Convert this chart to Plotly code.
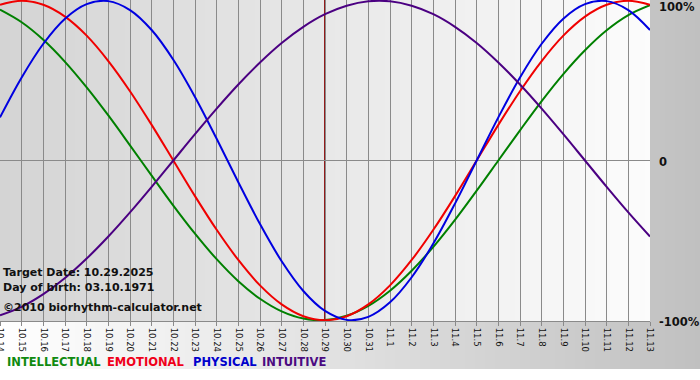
import plotly.graph_objects as go

# ---------------- data ----------------
DAYS = ["10.14", "10.15", "10.16", "10.17", "10.18", "10.19", "10.20", "10.21",
        "10.22", "10.23", "10.24", "10.25", "10.26", "10.27", "10.28", "10.29",
        "10.30", "10.31", "11.1", "11.2", "11.3", "11.4", "11.5", "11.6", "11.7",
        "11.8", "11.9", "11.10", "11.11", "11.12", "11.13"]

INTELLECTUAL = [0.945, 0.866, 0.756, 0.618, 0.458, 0.282, 0.095, -0.095, -0.282,
                -0.458, -0.618, -0.756, -0.866, -0.945, -0.990, -0.999, -0.972,
                -0.910, -0.815, -0.690, -0.541, -0.372, -0.189, 0.0, 0.189, 0.372,
                0.541, 0.690, 0.815, 0.910, 0.972]

EMOTIONAL = [0.975, 1.000, 0.975, 0.901, 0.782, 0.623, 0.434, 0.223, 0.0,
             -0.223, -0.434, -0.623, -0.782, -0.901, -0.975, -1.000, -0.975,
             -0.901, -0.782, -0.623, -0.434, -0.223, 0.0, 0.223, 0.434, 0.623,
             0.782, 0.901, 0.975, 1.000, 0.975]

PHYSICAL = [0.270, 0.520, 0.731, 0.888, 0.979, 0.998, 0.942, 0.817, 0.631,
            0.398, 0.136, -0.136, -0.398, -0.631, -0.817, -0.942, -0.998,
            -0.979, -0.888, -0.731, -0.520, -0.270, 0.0, 0.270, 0.520, 0.731,
            0.888, 0.979, 0.998, 0.942, 0.817]

INTUITIVE = [-0.969, -0.916, -0.837, -0.736, -0.614, -0.476, -0.325, -0.165, 0.0,
             0.165, 0.325, 0.476, 0.614, 0.736, 0.837, 0.916, 0.969, 0.997,
             0.997, 0.969, 0.916, 0.837, 0.736, 0.614, 0.476, 0.325, 0.165, 0.0,
             -0.165, -0.325, -0.476]

SERIES_NAMES = ["INTELLECTUAL", "EMOTIONAL", "PHYSICAL", "INTUITIVE"]
Y_LABELS = ["100%", "0", "-100%"]
TARGET_DAY = "10.29"
TARGET_DATE = "10.29.2025"
BIRTH_DATE = "03.10.1971"
CREDIT = "©2010 biorhythm-calculator.net"

# ---------------- style ----------------
W, H = 700, 380
ML, MR, MT, MB = 0, 50, 0, 59
PW, PH = W - ML - MR, H - MT - MB
FONT = "DejaVu Sans"
GRID = "#8a8a8a"
COLORS = {"INTELLECTUAL": "#008000", "EMOTIONAL": "#f00000",
          "PHYSICAL": "#0000e0", "INTUITIVE": "#4b0082"}
LEGEND_COLORS = {"INTELLECTUAL": "#108a10", "EMOTIONAL": "#f0001a",
                 "PHYSICAL": "#0000cc", "INTUITIVE": "#4b0a82"}


def px_x(p):
    return (p - ML) / PW


def px_y(p):
    return (MT + PH - p) / PH


def lerp(c1, c2, t):
    a = [int(c1[i:i + 2], 16) for i in (1, 3, 5)]
    b = [int(c2[i:i + 2], 16) for i in (1, 3, 5)]
    return "rgb(%d,%d,%d)" % tuple(round(a[k] + (b[k] - a[k]) * t) for k in range(3))


xs = list(range(len(DAYS)))
data = {"INTELLECTUAL": INTELLECTUAL, "EMOTIONAL": EMOTIONAL,
        "PHYSICAL": PHYSICAL, "INTUITIVE": INTUITIVE}

fig = go.Figure()
for name in SERIES_NAMES:
    fig.add_trace(go.Scatter(
        x=xs, y=data[name], mode="lines", name=name,
        line=dict(color=COLORS[name], width=2, shape="spline", smoothing=1.0),
        hoverinfo="skip", showlegend=False))

shapes = []
# outer frame gradient (white -> gray), covers pixels y 0..369
step = 5
for i in range(0, W, step):
    shapes.append(dict(type="rect", xref="paper", yref="paper", layer="below",
                       x0=px_x(i), x1=px_x(min(i + step + 1, W)),
                       y0=px_y(369), y1=px_y(0),
                       fillcolor=lerp("#ffffff", "#c0c0c0", i / W),
                       line=dict(width=0)))
# plot-area gradient (gray -> white)
for i in range(0, PW, step):
    shapes.append(dict(type="rect", xref="paper", yref="paper", layer="below",
                       x0=px_x(i), x1=px_x(min(i + step + 1, PW)),
                       y0=0, y1=1,
                       fillcolor=lerp("#d4d4d4", "#fcfcfc", i / PW),
                       line=dict(width=0)))
# target date line
ti = DAYS.index(TARGET_DAY)
shapes.append(dict(type="line", xref="x", yref="paper", layer="between",
                   x0=xs[ti], x1=xs[ti], y0=0, y1=1,
                   line=dict(color="#921a1a", width=2)))

ann = []
# right side labels
for txt, yp in zip(Y_LABELS, [7, 161.5, 321.5]):
    ann.append(dict(text="<b>%s</b>" % txt, xref="paper", yref="paper",
                    x=px_x(657), y=px_y(yp), xanchor="left", yanchor="middle",
                    showarrow=False, font=dict(family=FONT, size=11.5, color="#111111")))
# info text in plot
for txt, yp in zip(["Target Date: " + TARGET_DATE, "Day of birth: " + BIRTH_DATE, CREDIT],
                   [272, 287, 307]):
    ann.append(dict(text="<b>%s</b>" % txt, xref="paper", yref="paper",
                    x=px_x(1), y=px_y(yp), xanchor="left", yanchor="middle",
                    showarrow=False, font=dict(family=FONT, size=11, color="#111111")))
# legend
for name, xp in zip(SERIES_NAMES, [7, 107, 193, 262]):
    ann.append(dict(text="<b>%s</b>" % name, xref="paper", yref="paper",
                    x=px_x(xp - 2), y=px_y(362), xanchor="left", yanchor="middle",
                    showarrow=False,
                    font=dict(family=FONT, size=11.5, color=LEGEND_COLORS[name])))

fig.update_layout(
    width=W, height=H,
    margin=dict(l=ML, r=MR, t=MT, b=MB, pad=0, autoexpand=False),
    paper_bgcolor="#ffffff", plot_bgcolor="rgba(0,0,0,0)",
    shapes=shapes, annotations=ann, showlegend=False,
    xaxis=dict(range=[0, len(DAYS) - 1], tickvals=xs, ticktext=DAYS, tickangle=90,
               automargin=False,
               showgrid=True, gridcolor=GRID, gridwidth=1,
               ticks="outside", ticklen=4, tickcolor=GRID, tickwidth=1,
               showline=True, linecolor=GRID, linewidth=1, zeroline=False,
               ticklabeloverflow="allow",
               tickfont=dict(family=FONT, size=8.5, color="#111111"),
               fixedrange=True),
    yaxis=dict(range=[-1.005, 1.005], showgrid=False, zeroline=True,
               automargin=False,
               zerolinecolor=GRID, zerolinewidth=1, showticklabels=False,
               ticks="", showline=False, fixedrange=True),
)

fig.write_html("out.html", config={"displayModeBar": False},
               post_script="document.body.style.margin='0';document.body.style.padding='0';")
